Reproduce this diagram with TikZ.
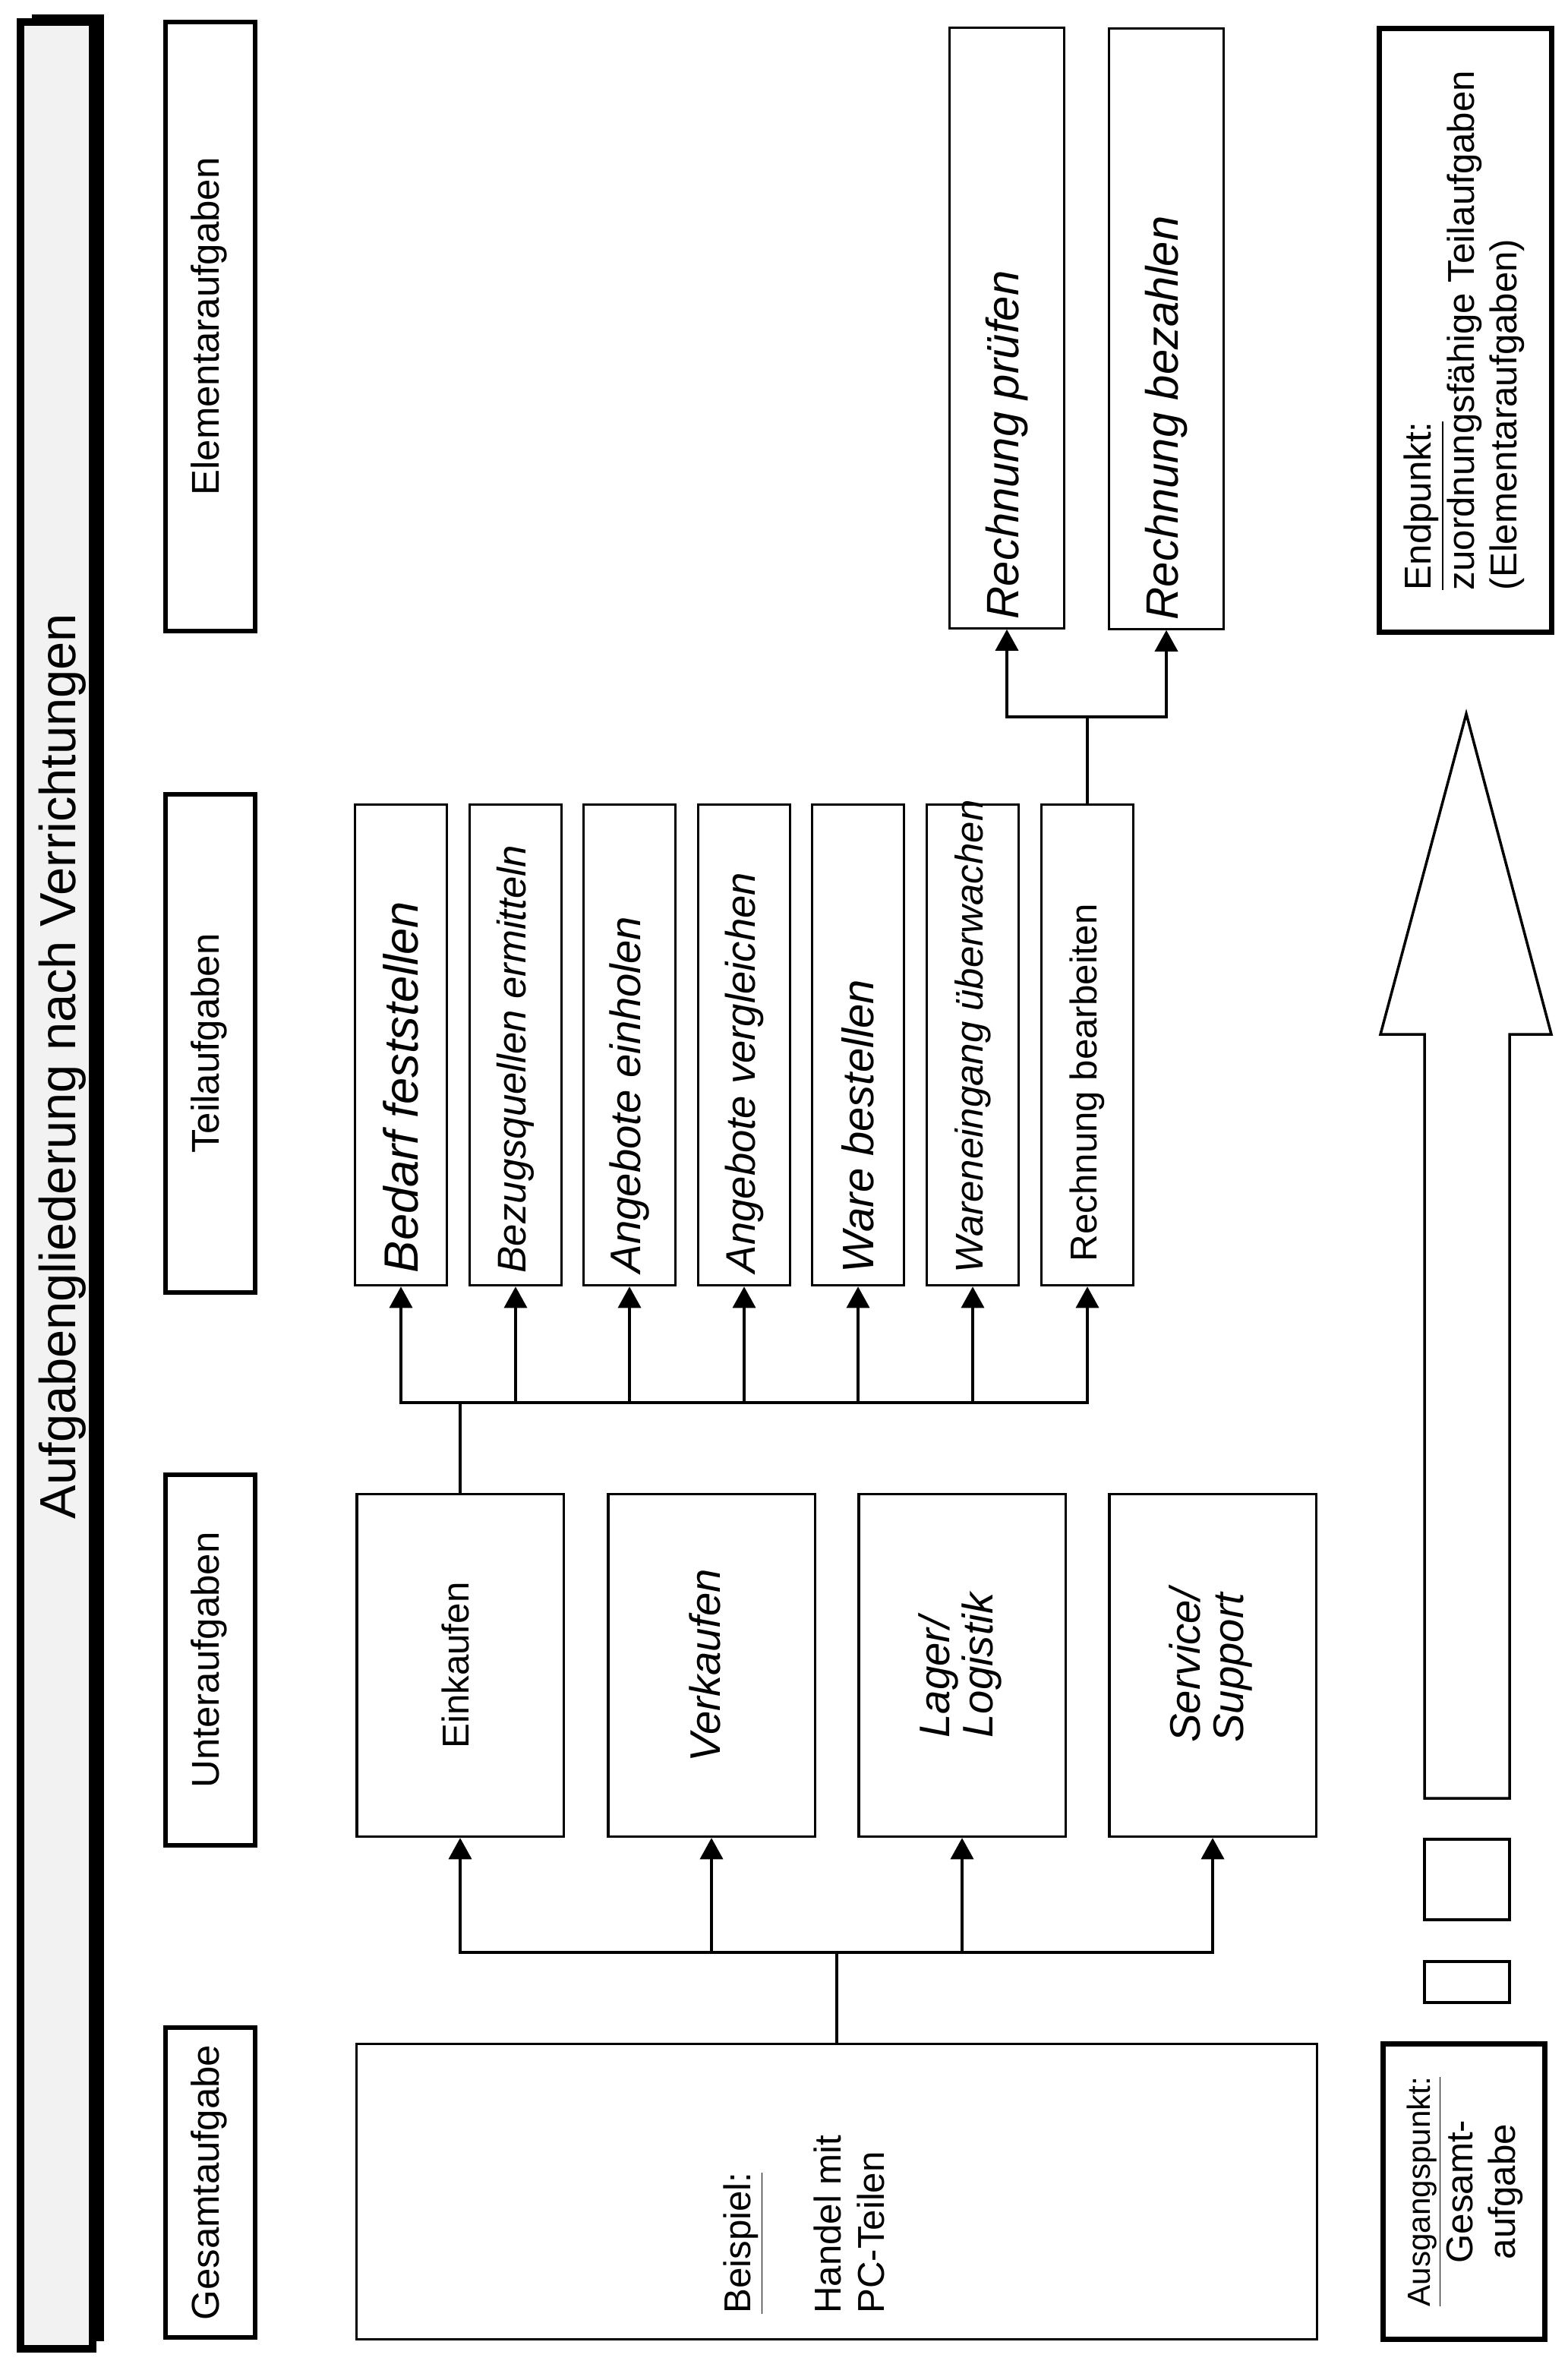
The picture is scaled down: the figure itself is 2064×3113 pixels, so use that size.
\documentclass[tikz,border=0pt]{standalone}
\usepackage{fontspec}
\setmainfont{Liberation Sans}
\usepackage{graphicx}
\usetikzlibrary{arrows.meta,shadows}

% rotated text, read from bottom to top
\newcommand{\vtext}[2][c]{\rotatebox{90}{\begin{tabular}{@{}#1@{}}#2\end{tabular}}}
\newcommand{\upbox}[2]{\rotatebox{90}{\makebox[#1][l]{#2}}}

\begin{document}
\begin{tikzpicture}[x=0.01cm, y=-0.01cm,
    frame/.style={rectangle, draw, line width=3pt, fill=gray!10, minimum width=0.95cm, minimum height=30.62cm,
        drop shadow={shadow xshift=1.5mm, shadow yshift=1mm, opacity=1, fill=black}},
    head/.style={rectangle, draw, line width=1.7pt, minimum width=1.17cm, inner sep=0pt, font=\fontsize{14.5}{16}\selectfont},
    teil/.style={rectangle, draw, line width=0.9pt, minimum width=1.21cm, minimum height=6.33cm, inner sep=0pt},
    unter/.style={rectangle, draw, line width=0.9pt, minimum width=2.72cm, minimum height=4.51cm, inner sep=0pt},
    elem/.style={rectangle, draw, line width=0.9pt, minimum width=1.51cm, minimum height=7.9cm, inner sep=0pt},
    note/.style={rectangle, draw, line width=2pt, inner sep=0pt, font=\fontsize{14}{16}\selectfont},
    printed/.style={font=\fontsize{14}{16}\selectfont},
    hand/.style={font=\itshape\fontsize{#1}{#1}\selectfont},
    line/.style={draw, line width=1pt},
    arr/.style={line, -{Triangle[length=2.8mm, width=3mm]}}
]
    \useasboundingbox (0,0) rectangle (2064,3113);

    % Title bar
    \node[frame] (frame) at (74.5,1561) {};
    \node[font=\fontsize{19}{21}\selectfont] (title) at (85,1404) {\vtext{Aufgabengliederung nach Verrichtungen}};

    % Level captions
    \node[head, minimum height=8.01cm] (hElem) at (277,430) {\vtext{Elementaraufgaben}};
    \node[head, minimum height=6.56cm] (hTeil) at (277,1374) {\vtext{Teilaufgaben}};
    \node[head, minimum height=4.88cm] (hUnter) at (277,2186) {\vtext{Unteraufgaben}};
    \node[head, minimum height=4.08cm] (hGes) at (277,2874) {\vtext{Gesamtaufgabe}};

    % Gesamtaufgabe
    \node[rectangle, draw, line width=0.9pt, minimum width=12.65cm, minimum height=3.89cm] (g) at (1102,2886) {};
    \node[printed] (gtxt) at (1065,2929) {\vtext[l]{\underline{Beispiel:}\\[18pt] Handel mit\\ PC-Teilen}};

    % Unteraufgaben
    \node[unter, printed] (u1) at (606,2193) {\vtext{Einkaufen}};
    \node[unter, hand=16] (u2) at (937,2193) {\vtext{Verkaufen}};
    \node[unter, hand=16] (u3) at (1267,2193) {\vtext[l]{Lager/\\ Logistik}};
    \node[unter, hand=16] (u4) at (1597,2193) {\vtext[l]{Service/\\ Support}};

    % Teilaufgaben
    \foreach \i/\x/\s/\txt in {1/528/18/{Bedarf feststellen}, 2/679/15/{Bezugsquellen ermitteln},
        3/829/16/{Angebote einholen}, 4/980/15.5/{Angebote vergleichen},
        5/1130/16.5/{Ware bestellen}, 6/1281/14.5/{Wareneingang überwachen}} {
        \node[teil, hand=\s] (t\i) at (\x,1376) {\upbox{6.0cm}{\txt}};
    }
    \node[teil, printed] (t7) at (1432,1376) {\upbox{5.7cm}{Rechnung bearbeiten}};

    % Elementaraufgaben
    \node[elem, hand=17] (pruefen) at (1326,432) {\upbox{7.66cm}{Rechnung prüfen}};
    \node[elem, hand=17] (bezahlen) at (1536,433) {\upbox{7.66cm}{Rechnung bezahlen}};

    % Connectors
    \coordinate (ubus) at (g.north |- 0,2571);
    \draw[line] (g.north) -- (ubus);
    \foreach \i in {1,...,4} {
        \draw[arr] (ubus) -| (u\i.south);
    }
    \coordinate (tbus) at (u1.north |- 0,1847);
    \draw[line] (u1.north) -- (tbus);
    \foreach \i in {1,...,7} {
        \draw[arr] (tbus) -| (t\i.south);
    }
    \coordinate (ebus) at (t7.north |- 0,944);
    \draw[line] (t7.north) -- (ebus);
    \foreach \n in {pruefen, bezahlen} {
        \draw[arr] (ebus) -| (\n.south);
    }

    % End and start point
    \node[note, minimum width=2.26cm, minimum height=7.94cm] (endp) at (1930,435)
        {\vtext[l]{\underline{Endpunkt:}\\ zuordnungsfähige Teilaufgaben\\ (Elementaraufgaben)}};
    \node[note, minimum width=2.13cm, minimum height=3.89cm] (ausg) at (1928,2886)
        {\vtext{{\fontsize{12}{14}\selectfont\underline{Ausgangspunkt:}}\\ Gesamt-\\ aufgabe}};

    % Big hollow arrow with tail
    \draw[line width=1pt] (1876,2368) -- (1876,1362) -- (1818,1362) -- (1931,940)
        -- (2043,1362) -- (1988,1362) -- (1988,2368) -- cycle;
    \draw[line width=1pt] (1876,2422) rectangle (1988,2528);
    \draw[line width=1pt] (1876,2583) rectangle (1988,2637);

\end{tikzpicture}
\end{document}
